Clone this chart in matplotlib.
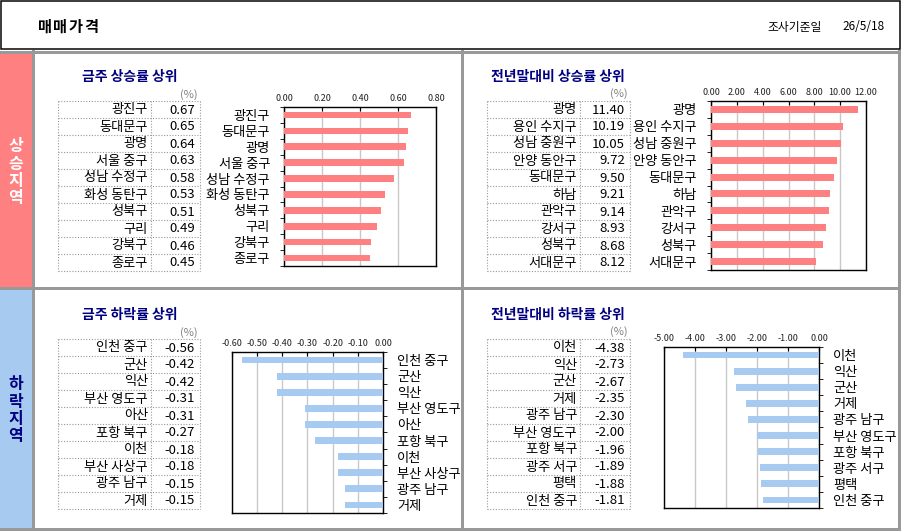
import matplotlib
matplotlib.use("Agg")
import matplotlib.pyplot as plt
from matplotlib.patches import Rectangle
from matplotlib.ticker import FixedLocator, FormatStrFormatter
import numpy as np

plt.rcParams['font.family'] = ['Noto Sans CJK KR', 'DejaVu Sans']

W, H = 901, 531
PINK = "#FF8080"
BLUE = "#A6CAF0"
NAVY = "#000080"
FRAME = "#999999"

# ---------------------------------------------------------------------------
# Data
# ---------------------------------------------------------------------------
wk_up_names = ['광진구', '동대문구', '광명', '서울 중구', '성남 수정구',
               '화성 동탄구', '성북구', '구리', '강북구', '종로구']
wk_up_vals = [0.67, 0.65, 0.64, 0.63, 0.58, 0.53, 0.51, 0.49, 0.46, 0.45]

yr_up_names = ['광명', '용인 수지구', '성남 중원구', '안양 동안구', '동대문구',
               '하남', '관악구', '강서구', '성북구', '서대문구']
yr_up_vals = [11.40, 10.19, 10.05, 9.72, 9.50, 9.21, 9.14, 8.93, 8.68, 8.12]

wk_dn_names = ['인천 중구', '군산', '익산', '부산 영도구', '아산',
               '포항 북구', '이천', '부산 사상구', '광주 남구', '거제']
wk_dn_vals = [-0.56, -0.42, -0.42, -0.31, -0.31, -0.27, -0.18, -0.18, -0.15, -0.15]

yr_dn_names = ['이천', '익산', '군산', '거제', '광주 남구',
               '부산 영도구', '포항 북구', '광주 서구', '평택', '인천 중구']
yr_dn_vals = [-4.38, -2.73, -2.67, -2.35, -2.30, -2.00, -1.96, -1.89, -1.88, -1.81]

# ---------------------------------------------------------------------------
# Canvas in pixel coordinates
# ---------------------------------------------------------------------------
fig = plt.figure(figsize=(W / 100, H / 100), dpi=100)
bg = fig.add_axes([0, 0, 1, 1])
bg.set_xlim(0, W)
bg.set_ylim(H, 0)
bg.axis("off")

def px(n):
    return n * 0.72

# header
bg.add_patch(Rectangle((0.5, 0.5), 899, 48.5, fill=False, ec="black", lw=px(1.5)))
for i, ch in enumerate("매매가격"):
    bg.text(38 + i * 15.5, 27, ch, fontsize=11, fontweight="bold", va="center", ha="left")
bg.text(767, 27, "조사기준일", fontsize=8.5, va="center", ha="left")
bg.text(885, 27, "26/5/18", fontsize=8.5, va="center", ha="right")

# side bars
bg.add_patch(Rectangle((0, 52), 32, 236, color=PINK, lw=0))
bg.add_patch(Rectangle((0, 289), 32, 240, color=BLUE, lw=0))
for i, ch in enumerate("상승지역"):
    bg.text(16, 146 + i * 17.5, ch, fontsize=11.5, fontweight="bold", color="white",
            ha="center", va="center")
for i, ch in enumerate("하락지역"):
    bg.text(16, 384 + i * 17.5, ch, fontsize=11.5, fontweight="bold", color=NAVY,
            ha="center", va="center")

# frame lines
lw_f = px(3)
bg.plot([0, 899], [51.5, 51.5], color=FRAME, lw=lw_f)
bg.plot([0, 899], [288, 288], color=FRAME, lw=lw_f)
bg.plot([0, 899], [529, 529], color=FRAME, lw=lw_f)
bg.plot([33, 33], [51, 530], color=FRAME, lw=lw_f)
bg.plot([461.5, 461.5], [51, 530], color=FRAME, lw=lw_f)
bg.plot([898.5, 898.5], [51, 530], color=FRAME, lw=lw_f)

# ---------------------------------------------------------------------------
# Panels
# ---------------------------------------------------------------------------
panels = [
    dict(title="금주 상승률 상위", names=wk_up_names, vals=wk_up_vals,
         tx=82, ty=77, tab=(58, 151, 200, 101), pct=(198, 95),
         ax=(284, 107, 436, 266), xlim=(0, 0.8), step=0.2, color=PINK, side="left"),
    dict(title="전년말대비 상승률 상위", names=yr_up_names, vals=yr_up_vals,
         tx=491, ty=77, tab=(487, 580, 630, 101), pct=(628, 94),
         ax=(711, 101, 866, 270), xlim=(0, 12), step=2, color=PINK, side="left"),
    dict(title="금주 하락률 상위", names=wk_dn_names, vals=wk_dn_vals,
         tx=82, ty=315, tab=(58, 151, 200, 339), pct=(198, 333),
         ax=(232, 352, 383, 513), xlim=(-0.6, 0), step=0.1, color=BLUE, side="right"),
    dict(title="전년말대비 하락률 상위", names=yr_dn_names, vals=yr_dn_vals,
         tx=491, ty=315, tab=(487, 580, 630, 339), pct=(628, 332),
         ax=(664, 347, 819, 508), xlim=(-5, 0), step=1, color=BLUE, side="right"),
]

row_h = 17
for p in panels:
    n = len(p["names"])
    bg.text(p["tx"], p["ty"], p["title"], fontsize=10, fontweight="bold",
            color=NAVY, ha="left", va="center")
    bg.text(p["pct"][0], p["pct"][1], "(%)", fontsize=8, color="#808080",
            ha="right", va="center")

    # table
    x0, xm, x1, y0 = p["tab"]
    y1 = y0 + n * row_h
    dot = dict(color=FRAME, lw=0.8, ls=(0, (1, 1.5)))
    for i in range(n + 1):
        yy = y0 + i * row_h
        bg.plot([x0, x1], [yy, yy], **dot)
    for xx in (x0, xm, x1):
        bg.plot([xx, xx], [y0, y1], **dot)
    for i, (nm, v) in enumerate(zip(p["names"], p["vals"])):
        yc = y0 + i * row_h + row_h / 2 + 0.5
        bg.text(xm - 3, yc, nm, fontsize=9.5, ha="right", va="center")
        bg.text(x1 - 5, yc, f"{v:.2f}", fontsize=9.5, ha="right", va="center")

    # chart
    l, t, r, b = p["ax"]
    ax = fig.add_axes([l / W, 1 - b / H, (r - l) / W, (b - t) / H])
    ypos = np.arange(n)
    ax.barh(ypos, p["vals"], height=0.42, color=p["color"], zorder=3)
    ax.set_ylim(n - 0.5, -0.5)
    ax.set_xlim(*p["xlim"])
    xt = np.round(np.arange(p["xlim"][0], p["xlim"][1] + p["step"] / 2, p["step"]), 6) + 0.0
    ax.xaxis.set_major_locator(FixedLocator(xt))
    ax.xaxis.set_major_formatter(FormatStrFormatter("%.2f"))
    ax.xaxis.tick_top()
    ax.tick_params(axis="x", labelsize=6.5, length=3, direction="in",
                   pad=3, labelcolor="#222222")
    ax.grid(axis="x", color="#C8C8C8", lw=1, zorder=0)
    ax.set_yticks(ypos)
    ax.set_yticklabels(p["names"], fontsize=9.5)
    ax.set_yticks(np.arange(n + 1) - 0.5, minor=True)
    if p["side"] == "right":
        ax.yaxis.tick_right()
        ax.yaxis.set_ticks_position("right")
    ax.tick_params(axis="y", which="major", length=0, pad=10)
    ax.tick_params(axis="y", which="minor", length=3, direction="out")
    for s in ax.spines.values():
        s.set_color("black")
        s.set_linewidth(1.0)

fig.savefig("out.png", dpi=100)
